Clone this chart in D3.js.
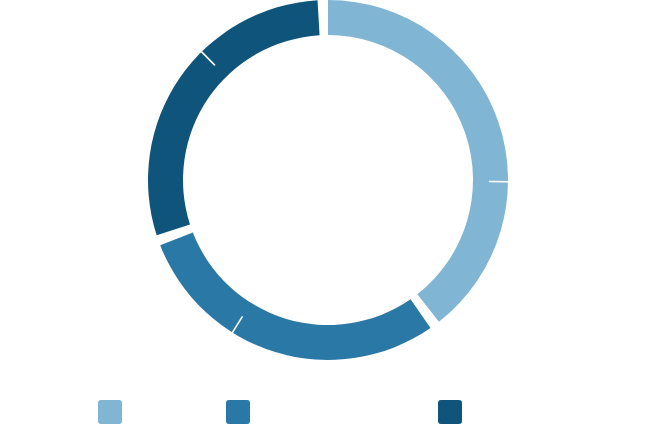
<!DOCTYPE html>
<html>
<head>
<meta charset="utf-8">
<script src="https://cdn.jsdelivr.net/npm/d3@7"></script>
<style>
  html, body { margin: 0; padding: 0; background: #ffffff; }
  svg { display: block; }
</style>
</head>
<body>
<svg id="chart" width="658" height="425"></svg>
<script>
// Data (percent shares of the ring, two parts per group)
const groups = ["A", "B", "C"];
const partValues = [
  [25.9, 14.7],
  [19.1, 10.5],
  [18.1, 11.8]
];
const groupColors = ["#80b6d4", "#2a78a6", "#0f547b"];

const W = 658, H = 425;
const cx = 328, cy = 180;
const rOuter = 180, rInner = 145, rSplit = 161;
const gap = (10 / 3) * Math.PI / 180;

const svg = d3.select("#chart");
const g = svg.append("g").attr("transform", `translate(${cx},${cy})`);

const groupTotals = partValues.map(p => d3.sum(p));
const total = d3.sum(groupTotals);
const angle = d3.scaleLinear().domain([0, total]).range([0, 2 * Math.PI - groups.length * gap]);

// Build arcs
const groupArcs = [];
const separators = [];
let cum = 0;
groups.forEach((name, i) => {
  const start = angle(cum) + i * gap;
  const end = angle(cum + groupTotals[i]) + i * gap;
  groupArcs.push({ name, i, startAngle: start, endAngle: end });
  let sub = cum;
  partValues[i].forEach((v, j) => {
    sub += v;
    if (j < partValues[i].length - 1) separators.push(angle(sub) + i * gap);
  });
  cum += groupTotals[i];
});

const arc = d3.arc().innerRadius(rInner).outerRadius(rOuter);

g.selectAll("path.group")
  .data(groupArcs)
  .join("path")
  .attr("class", "group")
  .attr("d", arc)
  .attr("fill", d => groupColors[d.i]);

g.selectAll("line.sep")
  .data(separators)
  .join("line")
  .attr("class", "sep")
  .attr("x1", a => rSplit * Math.sin(a))
  .attr("y1", a => -rSplit * Math.cos(a))
  .attr("x2", a => (rOuter + 1) * Math.sin(a))
  .attr("y2", a => -(rOuter + 1) * Math.cos(a))
  .attr("stroke", "#ffffff")
  .attr("stroke-width", 1.6);

// Legend (labels not visible in the reference)
const legendX = [98, 226, 438];
svg.selectAll("rect.legend")
  .data(groups)
  .join("rect")
  .attr("class", "legend")
  .attr("x", (d, i) => legendX[i])
  .attr("y", 400)
  .attr("width", 24)
  .attr("height", 24)
  .attr("rx", 3)
  .attr("fill", (d, i) => groupColors[i]);
</script>
</body>
</html>
